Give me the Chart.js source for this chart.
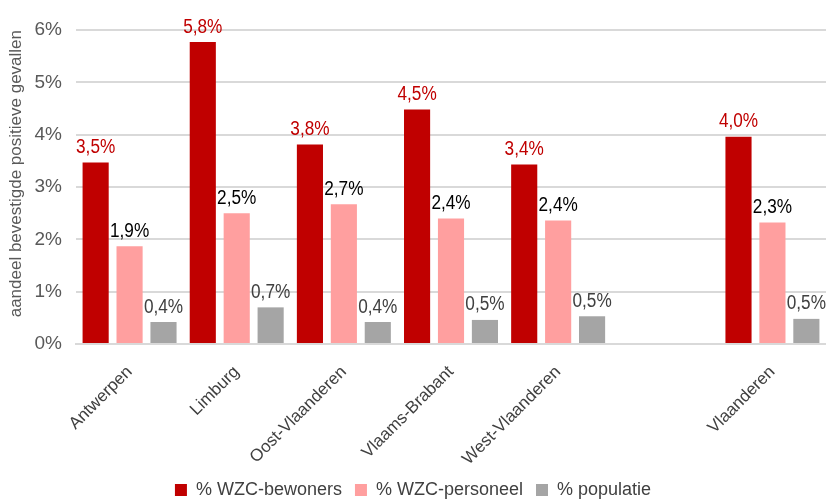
<!DOCTYPE html>
<html>
<head>
<meta charset="utf-8">
<script src="https://cdn.jsdelivr.net/npm/chart.js@4/dist/chart.umd.min.js"></script>
<style>
  html, body { margin: 0; padding: 0; background: #fff; }
  #wrap { width: 826px; height: 499px; }
</style>
</head>
<body>
<div id="wrap"><canvas id="chart" width="826" height="499"></canvas></div>
<script>
// data (empty slot between West-Vlaanderen and Vlaanderen)
const categories = ['Antwerpen', 'Limburg', 'Oost-Vlaanderen', 'Vlaams-Brabant', 'West-Vlaanderen', '', 'Vlaanderen'];
const bewoners = [3.47, 5.77, 3.81, 4.48, 3.43, null, 3.96];
const personeel = [1.87, 2.50, 2.67, 2.40, 2.36, null, 2.32];
const populatie = [0.42, 0.70, 0.42, 0.46, 0.53, null, 0.48];
const yTicks = [0, 1, 2, 3, 4, 5, 6];

const fontFam = "'Liberation Sans', Arial, sans-serif";
const labelColors = ['#c00000', '#000000', '#404040'];

// draws the value labels above each bar (slightly condensed like the original)
const barLabels = {
    id: 'barLabels',
    afterDatasetsDraw(chart) {
        const ctx = chart.ctx;
        chart.data.datasets.forEach(function (ds, i) {
            const meta = chart.getDatasetMeta(i);
            meta.data.forEach(function (bar, j) {
                const v = ds.data[j];
                if (v === null) return;
                const txt = v.toFixed(1).replace('.', ',') + '%';
                ctx.save();
                ctx.translate(bar.x, bar.y - 5);
                ctx.scale(0.86, 1);
                ctx.font = '20px ' + fontFam;
                ctx.textAlign = 'center';
                ctx.textBaseline = 'bottom';
                ctx.fillStyle = labelColors[i];
                ctx.fillText(txt, 0, 0);
                ctx.restore();
            });
        });
    }
};

new Chart(document.getElementById('chart').getContext('2d'), {
    type: 'bar',
    data: {
        labels: categories,
        datasets: [
            { label: '% WZC-bewoners', data: bewoners, backgroundColor: '#c00000' },
            { label: '% WZC-personeel', data: personeel, backgroundColor: '#ff9f9f' },
            { label: '% populatie', data: populatie, backgroundColor: '#a5a5a5' }
        ]
    },
    options: {
        responsive: false,
        animation: false,
        layout: { padding: { top: 30, right: 0, left: 0, bottom: -10 } },
        datasets: {
            bar: { categoryPercentage: 0.95, barPercentage: 0.77 }
        },
        plugins: {
            legend: {
                position: 'bottom',
                labels: {
                    boxWidth: 12,
                    boxHeight: 12,
                    padding: 13,
                    color: '#404040',
                    font: { family: fontFam, size: 18 }
                }
            },
            tooltip: { enabled: false }
        },
        scales: {
            x: {
                grid: { display: false },
                border: { color: '#d9d9d9', width: 2 },
                afterFit(axis) { axis.height = 124; },
                ticks: {
                    minRotation: 45,
                    maxRotation: 45,
                    color: '#404040',
                    padding: 10,
                    font: { family: fontFam, size: 17 }
                }
            },
            y: {
                min: 0,
                max: 6,
                afterBuildTicks(axis) { axis.ticks = yTicks.map(v => ({ value: v })); },
                afterFit(axis) { axis.width = 76; },
                grid: { color: '#d9d9d9', lineWidth: 2, drawTicks: false },
                border: { display: false },
                ticks: {
                    color: '#595959',
                    padding: 14,
                    font: { family: fontFam, size: 19 },
                    callback: v => v + '%'
                },
                title: {
                    display: true,
                    text: 'aandeel bevestigde positieve gevallen',
                    color: '#595959',
                    align: 'end',
                    padding: { top: 6, bottom: 0 },
                    font: { family: fontFam, size: 17 }
                }
            }
        }
    },
    plugins: [barLabels]
});
</script>
</body>
</html>
